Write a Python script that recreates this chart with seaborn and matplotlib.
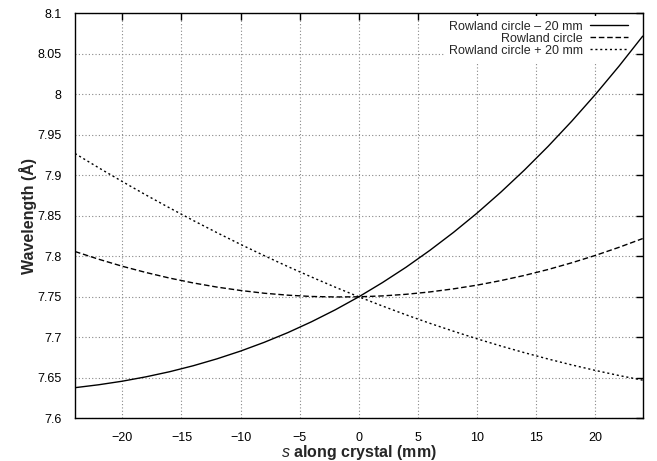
import numpy as np
import pandas as pd
import matplotlib
matplotlib.use("Agg")
import matplotlib.pyplot as plt
import seaborn as sns

# Data
s_mm = [-24, -22, -20, -18, -16, -14, -12, -10, -8, -6, -4, -2, 0,
        2, 4, 6, 8, 10, 12, 14, 16, 18, 20, 22, 24]
wl_minus20 = [7.6378, 7.6414, 7.6458, 7.6512, 7.6575, 7.6649, 7.6734, 7.6830,
              7.6938, 7.7058, 7.7192, 7.7339, 7.7500, 7.7676, 7.7866, 7.8073,
              7.8295, 7.8534, 7.8791, 7.9065, 7.9357, 7.9668, 7.9998, 8.0348, 8.0718]
wl_rowland = [7.8059, 7.7964, 7.7877, 7.7800, 7.7731, 7.7671, 7.7620, 7.7578,
              7.7544, 7.7520, 7.7504, 7.7498, 7.7500, 7.7511, 7.7531, 7.7560,
              7.7598, 7.7644, 7.7700, 7.7764, 7.7837, 7.7920, 7.8011, 7.8111, 7.8219]
wl_plus20 = [7.9269, 7.9093, 7.8923, 7.8757, 7.8597, 7.8442, 7.8292, 7.8147,
             7.8008, 7.7873, 7.7744, 7.7619, 7.7500, 7.7386, 7.7277, 7.7173,
             7.7075, 7.6981, 7.6893, 7.6810, 7.6732, 7.6659, 7.6591, 7.6528, 7.6471]
series_labels = ["Rowland circle \u2013 20 mm", "Rowland circle", "Rowland circle + 20 mm"]
x_ticks = [-20, -15, -10, -5, 0, 5, 10, 15, 20]
y_ticks = [7.6, 7.65, 7.7, 7.75, 7.8, 7.85, 7.9, 7.95, 8.0, 8.05, 8.1]
y_ticklabels = ["7.6", "7.65", "7.7", "7.75", "7.8", "7.85", "7.9", "7.95", "8", "8.05", "8.1"]

sns.set_theme(style="white")
plt.rcParams["font.family"] = ["Liberation Sans", "DejaVu Sans"]
plt.rcParams["mathtext.fontset"] = "custom"
plt.rcParams["mathtext.it"] = "Liberation Sans:italic"
plt.rcParams["mathtext.rm"] = "Liberation Sans"

fig = plt.figure(figsize=(6.57, 4.61), dpi=100)
ax = fig.add_axes([75 / 657, 1 - 418.3 / 461, (642.7 - 75) / 657, (418.3 - 13.3) / 461])

styles = ["-", (0, (4, 2)), (0, (1.5, 2))]
for ys, lab, ls in zip([wl_minus20, wl_rowland, wl_plus20], series_labels, styles):
    df = pd.DataFrame({"s": s_mm, "wl": ys})
    sns.lineplot(data=df, x="s", y="wl", ax=ax, color="black", lw=1.0,
                 linestyle=ls, label=lab, zorder=3)

ax.set_xlim(-24, 24)
ax.set_ylim(7.6, 8.1)
ax.set_xticks(x_ticks)
ax.set_yticks(y_ticks)
ax.set_yticklabels(y_ticklabels)
ax.grid(True, color="#888888", linestyle=(0, (1, 2)), linewidth=0.8)
ax.tick_params(direction="in", length=5, width=1, top=True, right=True,
               labelsize=9, colors="black")
ax.tick_params(axis="x", labeltop=False, pad=10)
ax.tick_params(axis="y", labelright=False, pad=9.5)
for sp in ax.spines.values():
    sp.set_color("black")
    sp.set_linewidth(1.0)
    sp.set_zorder(4)

ax.set_xlabel(r"$\mathit{s}$ along crystal (mm)", fontsize=11.5, fontweight="bold", labelpad=-1)
ax.set_ylabel("Wavelength (\u00c5)", fontsize=11.5, fontweight="bold", labelpad=0.5)

leg = ax.legend(loc="upper right", bbox_to_anchor=(1 - 0.0132, 1.0),
                markerfirst=False, frameon=True, fancybox=False,
                facecolor="white", edgecolor="none", framealpha=1, fontsize=9,
                handlelength=3.0, labelspacing=0.0, borderaxespad=0.2,
                handletextpad=0.6, borderpad=0.4)
for t in leg.get_texts():
    t.set_ha("right")
leg._legend_box.align = "right"
leg.set_zorder(1)

fig.savefig("out.png", dpi=100)
